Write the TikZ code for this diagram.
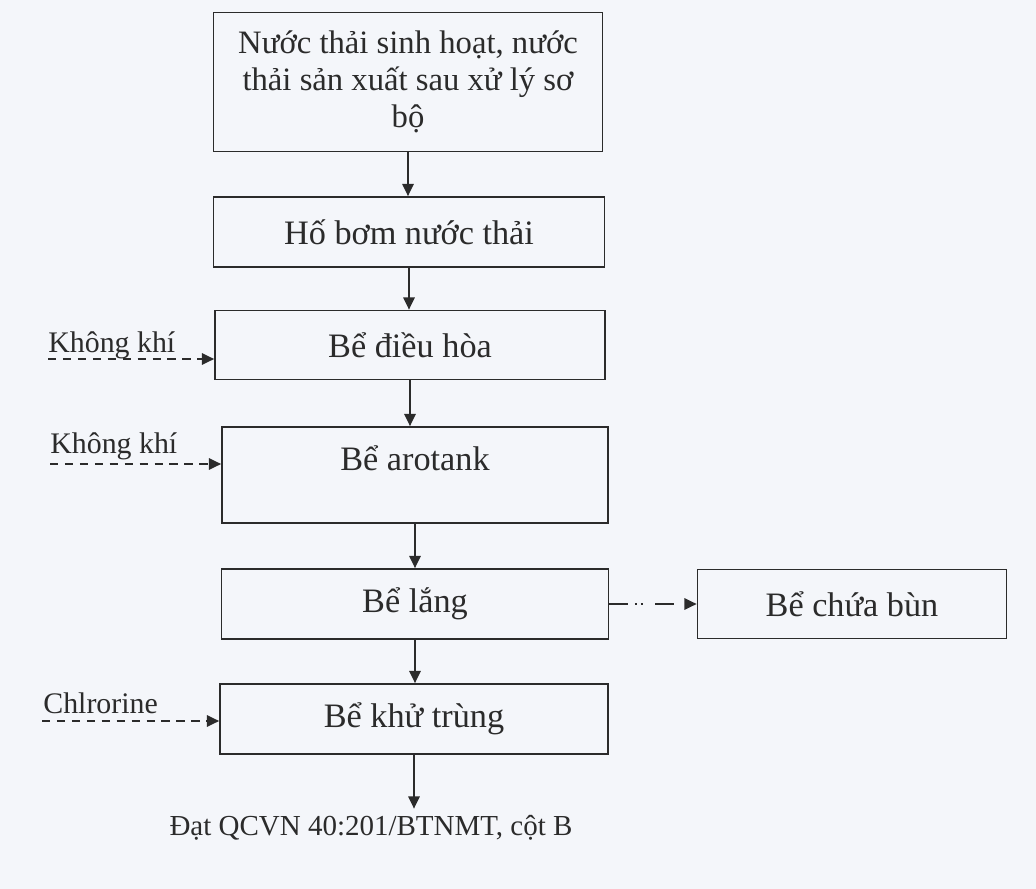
\documentclass[tikz,border=0pt]{standalone}
\usepackage{fontspec}
\setmainfont{Liberation Serif}
\usetikzlibrary{arrows.meta,positioning}
\definecolor{Ink}{HTML}{2B2B2B}
\definecolor{PaperBlue}{HTML}{F4F6FA}

\begin{document}
\begin{tikzpicture}[x=0.02cm,y=-0.02cm,
    tank/.style={draw=Ink, line width=1pt, minimum height=1.4cm, align=center,
      text=Ink, font=\fontsize{19.5}{21}\selectfont},
    flow/.style={draw=Ink, line width=1pt, -{Triangle[length=7pt,width=6.5pt]}},
    feed/.style={flow, dash pattern=on 4.8pt off 3.7pt},
    tag/.style={anchor=base west, inner sep=0pt, text=Ink,
      font=\fontsize{17}{19}\selectfont}]
  \fill[PaperBlue] (0,0) rectangle (1036,889);
  \useasboundingbox (0,0) rectangle (1036,889);

  % main line
  \node[tank, minimum width=7.78cm, minimum height=2.78cm, font=\fontsize{18.6}{21}\selectfont] (source) at (408,82)
    {Nước thải sinh hoạt, nước\\thải sản xuất sau xử lý sơ\\bộ};
  \node[tank, minimum width=7.82cm] (pit) at (409,232) {Hố bơm nước thải};
  \node[tank, minimum width=7.8cm, minimum height=1.38cm] (equal) at (410,345) {Bể điều hòa};
  \node[tank, minimum width=7.72cm, minimum height=1.92cm, text depth=0.66cm] (aero) at (415,475) {Bể arotank};
  \node[tank, minimum width=7.74cm] (settle) at (415,604) {Bể lắng};
  \node[tank, minimum width=6.18cm, minimum height=1.38cm] (sludge) at (852,604) {Bể chứa bùn};
  \node[tank, minimum width=7.76cm] (disinf) at (414,719) {Bể khử trùng};
  \node[anchor=base, text=Ink, font=\fontsize{16.5}{18}\selectfont] (outlet) at (371,835)
    {Đạt QCVN 40:201/BTNMT, cột B};

  \draw[flow] (source.south) -- (source.south |- pit.north);
  \draw[flow] (pit.south) -- (pit.south |- equal.north);
  \draw[flow] (equal.south) -- (equal.south |- aero.north);
  \draw[flow] (aero.south) -- (aero.south |- settle.north);
  \draw[flow] (settle.south) -- (settle.south |- disinf.north);
  \draw[flow] (disinf.south) -- (disinf.south |- outlet.north);
  \draw[flow, dash pattern=on 10.5pt off 4pt on 1pt off 2.5pt on 1pt off 7pt on 11pt off 20pt] (settle.east) -- (sludge.west);

  % side feeds
  \coordinate (airone) at (48,359);
  \coordinate (airtwo) at (50,464);
  \coordinate (chlor) at (42,721);
  \node[tag] (aironetag) at (48,352) {Không khí};
  \node[tag] (airtwotag) at (50,453) {Không khí};
  \node[tag] (chlortag) at (43,713) {Chlrorine};
  \draw[feed] (airone) -- (airone -| equal.west);
  \draw[feed] (airtwo) -- (airtwo -| aero.west);
  \draw[feed] (chlor) -- (chlor -| disinf.west);
\end{tikzpicture}
\end{document}
